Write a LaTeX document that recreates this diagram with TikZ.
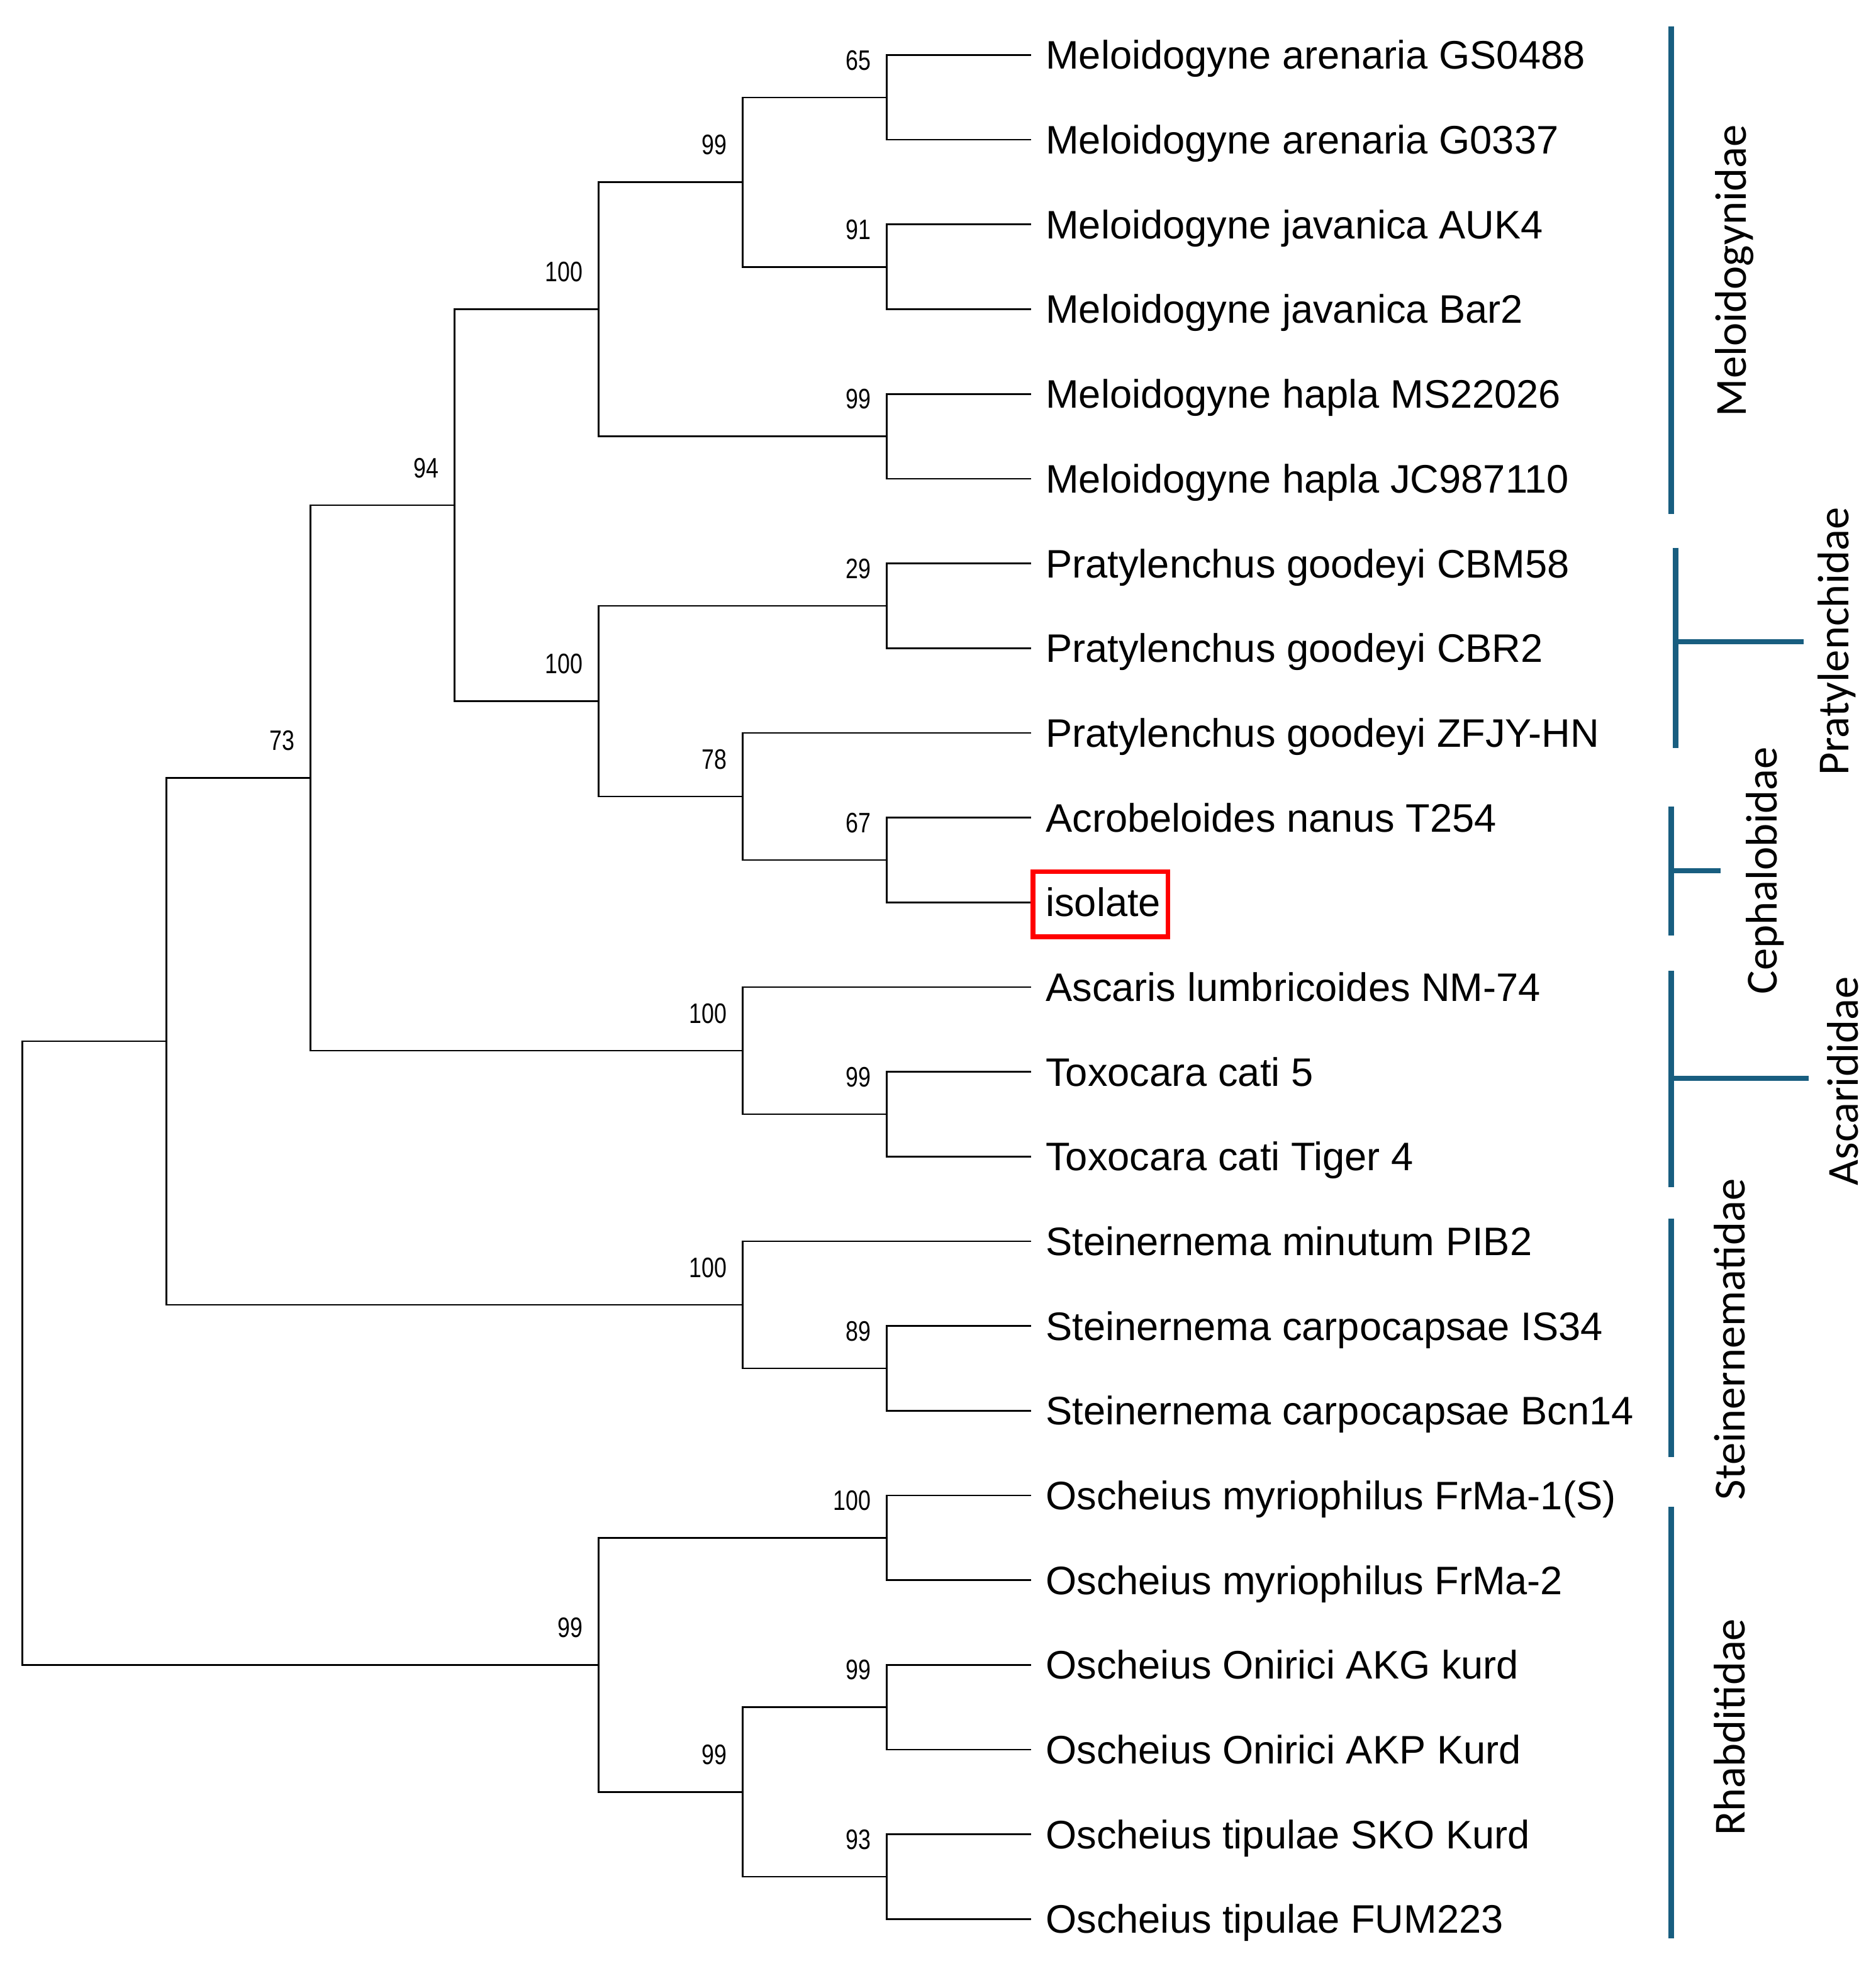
\documentclass[tikz,border=0pt]{standalone}
\usepackage{fontspec}
\setmainfont{Liberation Sans}
\newfontfamily\bsfamily[FakeStretch=0.8]{Liberation Sans}
\newfontfamily\famfamily{Carlito}
\usetikzlibrary{calc}
\definecolor{bar}{RGB}{24,94,128}
\definecolor{isored}{RGB}{255,0,0}
\begin{document}
\begin{tikzpicture}[x=1pt,y=-1pt,
  branch/.style={line width=1.35pt, black},
  leaf/.style={font=\fontsize{31.8}{36}\selectfont, anchor=base west, inner sep=0},
  bs/.style={font=\bsfamily\fontsize{22.5}{26}\selectfont, anchor=base east, inner sep=0},
  fam/.style={font=\famfamily\fontsize{35.5}{40}\selectfont, anchor=base, rotate=90, inner sep=0},
  famline/.style={line width=4.5pt, bar}]
\useasboundingbox (0,0) rectangle (1500,1568);
% leaves
\foreach \i/\t in {0/{Meloidogyne arenaria GS0488},1/{Meloidogyne arenaria G0337},2/{Meloidogyne javanica AUK4},3/{Meloidogyne javanica Bar2},4/{Meloidogyne hapla MS22026},5/{Meloidogyne hapla JC987110},6/{Pratylenchus goodeyi CBM58},7/{Pratylenchus goodeyi CBR2},8/{Pratylenchus goodeyi ZFJY-HN},9/{Acrobeloides nanus T254},10/{isolate},11/{Ascaris lumbricoides NM-74},12/{Toxocara cati 5},13/{Toxocara cati Tiger 4},14/{Steinernema minutum PIB2},15/{Steinernema carpocapsae IS34},16/{Steinernema carpocapsae Bcn14},17/{Oscheius myriophilus FrMa-1(S)},18/{Oscheius myriophilus FrMa-2},19/{Oscheius Onirici AKG kurd},20/{Oscheius Onirici AKP Kurd},21/{Oscheius tipulae SKO Kurd},22/{Oscheius tipulae FUM223}}{
  \coordinate (t\i) at (824.4,{44+67.75*\i});
  \node[leaf] (lab\i) at (836,{44+67.75*\i+11.3}) {\t};
}
% internal nodes
\coordinate (F) at (709.2,77.9);
\coordinate (G) at (709.2,213.4);
\coordinate (H) at (709.2,348.9);
\coordinate (E) at (594,145.6);
\coordinate (D) at (478.8,247.25);
\coordinate (J) at (709.2,484.4);
\coordinate (L) at (709.2,687.6);
\coordinate (K) at (594,636.8);
\coordinate (I) at (478.8,560.6);
\coordinate (C) at (363.6,403.9);
\coordinate (N) at (709.2,890.9);
\coordinate (M) at (594,840.1);
\coordinate (B) at (248.4,622);
\coordinate (P) at (709.2,1094.1);
\coordinate (O) at (594,1043.3);
\coordinate (A) at (133.2,832.6);
\coordinate (R) at (709.2,1229.6);
\coordinate (T) at (709.2,1365.1);
\coordinate (U) at (709.2,1500.6);
\coordinate (S) at (594,1432.9);
\coordinate (Q) at (478.8,1331.2);
\coordinate (root) at (18,1081.9);
% branches
\draw[branch] (F) |- (t0); \draw[branch] (F) |- (t1);
\draw[branch] (G) |- (t2); \draw[branch] (G) |- (t3);
\draw[branch] (H) |- (t4); \draw[branch] (H) |- (t5);
\draw[branch] (E) |- (F); \draw[branch] (E) |- (G);
\draw[branch] (D) |- (E); \draw[branch] (D) |- (H);
\draw[branch] (J) |- (t6); \draw[branch] (J) |- (t7);
\draw[branch] (L) |- (t9); \draw[branch] (L) |- (t10);
\draw[branch] (K) |- (t8); \draw[branch] (K) |- (L);
\draw[branch] (I) |- (J); \draw[branch] (I) |- (K);
\draw[branch] (C) |- (D); \draw[branch] (C) |- (I);
\draw[branch] (N) |- (t12); \draw[branch] (N) |- (t13);
\draw[branch] (M) |- (t11); \draw[branch] (M) |- (N);
\draw[branch] (B) |- (C); \draw[branch] (B) |- (M);
\draw[branch] (P) |- (t15); \draw[branch] (P) |- (t16);
\draw[branch] (O) |- (t14); \draw[branch] (O) |- (P);
\draw[branch] (A) |- (B); \draw[branch] (A) |- (O);
\draw[branch] (R) |- (t17); \draw[branch] (R) |- (t18);
\draw[branch] (T) |- (t19); \draw[branch] (T) |- (t20);
\draw[branch] (U) |- (t21); \draw[branch] (U) |- (t22);
\draw[branch] (S) |- (T); \draw[branch] (S) |- (U);
\draw[branch] (Q) |- (R); \draw[branch] (Q) |- (S);
\draw[branch] (root) |- (A); \draw[branch] (root) |- (Q);
% bootstrap values
\foreach \n/\v in {F/65,G/91,H/99,E/99,D/100,C/94,J/29,L/67,K/78,I/100,B/73,N/99,M/100,P/89,O/100,R/100,T/99,U/93,S/99,Q/99}{
  \node[bs] (bs\n) at ($(\n)+(-12.5,-22)$) {\v};
}
% isolate box
\node[draw=isored, line width=3.8pt, inner sep=0, minimum width=108pt, minimum height=52pt] (isobox) at (880,723) {};
% family bars
\coordinate (m1) at (1336.5,21); \coordinate (m2) at (1336.5,411);
\draw[famline] (m1) -- (m2);
\coordinate (p1) at (1340,438); \coordinate (p2) at (1340,598);
\coordinate (pm) at (1340,513); \coordinate (pt) at (1442,513);
\draw[famline] (p1) -- (p2); \draw[famline, line width=4pt] (pm) -- (pt);
\coordinate (c1) at (1336.5,645); \coordinate (c2) at (1336.5,748);
\coordinate (cm) at (1336.5,696); \coordinate (ct) at (1376,696);
\draw[famline] (c1) -- (c2); \draw[famline, line width=4pt] (cm) -- (ct);
\coordinate (a1) at (1336.5,776); \coordinate (a2) at (1336.5,949);
\coordinate (am) at (1336.5,862); \coordinate (at) at (1446,862);
\draw[famline] (a1) -- (a2); \draw[famline, line width=4pt] (am) -- (at);
\coordinate (s1) at (1336.5,974.5); \coordinate (s2) at (1336.5,1165);
\draw[famline] (s1) -- (s2);
\coordinate (r1) at (1336.5,1205); \coordinate (r2) at (1336.5,1550);
\draw[famline] (r1) -- (r2);
% family labels
\node[fam] (fmel) at (1396,216.5) {Meloidogynidae};
\node[fam] (fpra) at (1478,513) {Pratylenchidae};
\node[fam] (fcep) at (1421,696) {Cephalobidae};
\node[fam] (fasc) at (1485.5,864.5) {Ascarididae};
\node[fam] (fste) at (1395,1071) {Steinernematidae};
\node[fam] (frha) at (1395,1381) {Rhabditidae};
\end{tikzpicture}
\end{document}
